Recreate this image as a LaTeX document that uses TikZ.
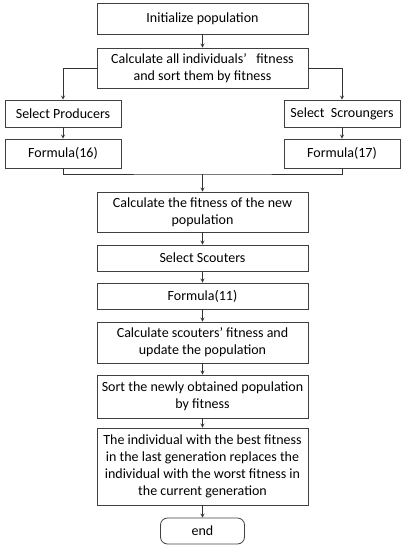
\documentclass[tikz,border=0pt]{standalone}
\usepackage{fontspec}
\setmainfont{Carlito}
\usetikzlibrary{positioning}

\tikzset{
  box/.style={draw=black!75, line width=0.8pt, minimum width=211pt, align=center,
    inner sep=1pt, font=\fontsize{14}{17}\selectfont},
  sidebox/.style={box, minimum width=116pt},
  flow/.style={-stealth, line width=0.8pt, draw=black!80}
}

\begin{document}
\begin{tikzpicture}[x=1pt,y=-1pt]
              \useasboundingbox (0,0) rectangle (406,550);

              \node[box, minimum height=31pt] (init) at (202.5,18.5) {Initialize population};
              \node[box, minimum height=40pt] (calc) at (202.5,68) {Calculate all individuals’\ \ \ fitness\\and sort them by fitness};
              \node[sidebox, minimum height=27pt] (prod) at (63,113.5) {Select Producers};
              \node[sidebox, minimum height=29pt] (f16) at (63,153.5) {Formula(16)};
              \node[sidebox, minimum height=27pt] (scr) at (342,113.5) {Select\ \ Scroungers};
              \node[sidebox, minimum height=29pt] (f17) at (342,153.5) {Formula(17)};
              \node[box, minimum height=40pt] (newfit) at (202.5,212) {Calculate the fitness of the new\\population};
              \node[box, minimum height=26pt] (scout) at (202.5,258) {Select Scouters};
              \node[box, minimum height=26pt] (f11) at (202.5,296) {Formula(11)};
              \node[box, minimum height=41pt] (upd) at (202.5,342.5) {Calculate scouters’ fitness and\\update the population};
              \node[box, minimum height=43pt] (sort) at (202.5,396.5) {Sort the newly obtained population\\by fitness};
              \node[box, minimum height=77pt] (repl) at (202.5,466.5) {The individual with the best fitness\\in the last generation replaces the\\individual with the worst fitness in\\the current generation};
              \node[box, minimum width=84pt, minimum height=26pt, rounded corners=7pt] (end) at (202.5,531) {end};

              \coordinate (join) at (202.5,174);

              %split
              \draw[flow] (init) -- (calc);
              \draw[flow] (calc.west) -| (prod.north);
              \draw[flow] (calc.east) -| (scr.north);
              \draw[flow] (prod) -- (f16);
              \draw[flow] (scr) -- (f17);

              %merge
              \draw[line width=0.8pt, draw=black!80] (f16.south) |- (join) -| (f17.south);
              \draw[flow] (join) -- (newfit);

              %main line
              \draw[flow] (newfit) -- (scout);
              \draw[flow] (scout) -- (f11);
              \draw[flow] (f11) -- (upd);
              \draw[flow] (upd) -- (sort);
              \draw[flow] (sort) -- (repl);
              \draw[flow] (repl) -- (end);
            \end{tikzpicture}
\end{document}
